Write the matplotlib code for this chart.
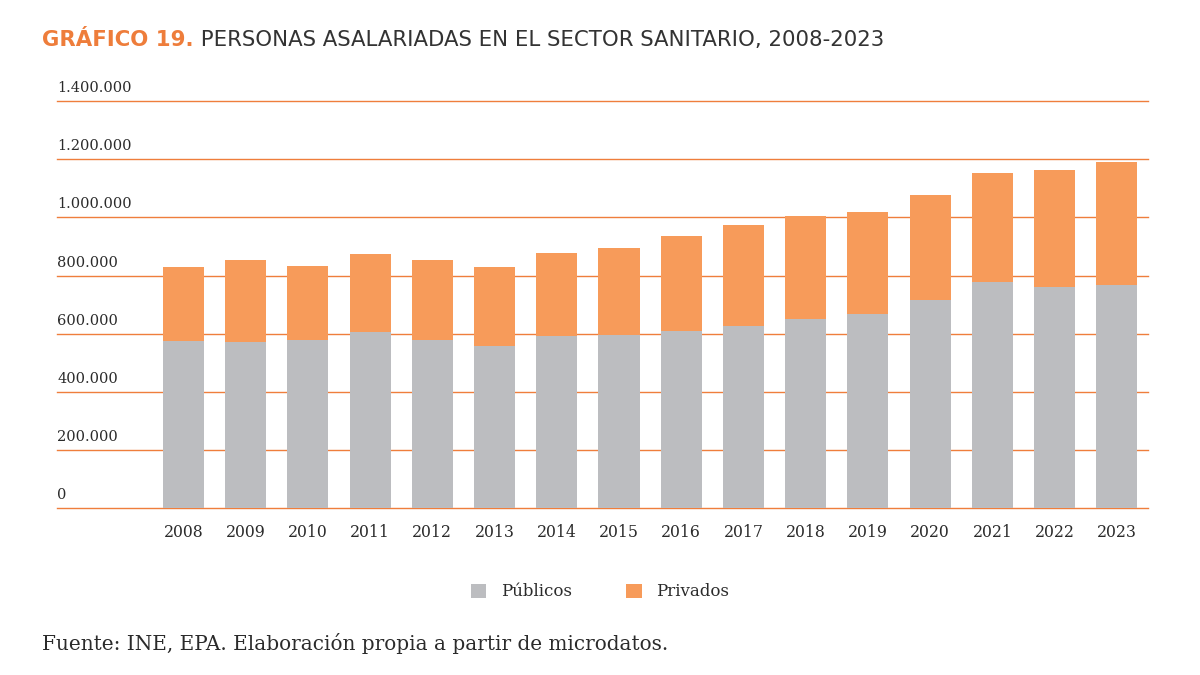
import numpy as np
import matplotlib.pyplot as plt
from matplotlib.patches import Patch

years = [str(y) for y in range(2008, 2024)]
publicos = [575000, 572000, 578000, 605000, 578000, 557000, 591000, 596000,
            610000, 627000, 650000, 667000, 715000, 777000, 762000, 768000]
totales = [830000, 854000, 833000, 875000, 854000, 831000, 878000, 896000,
           935000, 974000, 1004000, 1018000, 1077000, 1152000, 1164000, 1191000]
privados = [t - p for t, p in zip(totales, publicos)]
yticks = [0, 200000, 400000, 600000, 800000, 1000000, 1200000, 1400000]

gris = '#BCBDC0'
naranja = '#F79B5A'
linea = '#EF7E3C'
texto = '#2B2B2B'
serif = 'DejaVu Serif'

def miles(v):
    return f'{int(v):,}'.replace(',', '.')

fig = plt.figure(figsize=(12, 6.75), dpi=100)
ax = fig.add_axes([57/1200, 1-508.3/675, (1148-57)/1200, (508.3-101)/675])

x = np.arange(len(years))
ax.bar(x, publicos, width=0.66, color=gris, zorder=3)
ax.bar(x, privados, bottom=publicos, width=0.66, color=naranja, zorder=3)

ax.set_xlim(-2.03, 15.5)
ax.set_ylim(0, 1400000)
for s in ax.spines.values():
    s.set_visible(False)

# gridlines in orange, labels sit above each line
for v in yticks:
    ax.axhline(v, color=linea, lw=1.0, zorder=1, clip_on=False)
    ax.annotate(miles(v), xy=(0, v), xycoords=ax.get_yaxis_transform(),
                xytext=(0, 6.5), textcoords='offset points',
                ha='left', va='baseline', fontsize=10.5, family=serif, color=texto)
ax.set_yticks([])

ax.set_xticks(x)
ax.set_xticklabels(years, fontsize=11.3, family=serif, color=texto)
ax.tick_params(axis='x', length=0, pad=11)

# title
t1 = fig.text(42/1200, 1-40/675, 'GRÁFICO 19.', fontsize=15.3, fontweight='bold',
              family='DejaVu Sans', color='#EE7D3B', va='center', ha='left')
fig.canvas.draw()
ax.annotate(' PERSONAS ASALARIADAS EN EL SECTOR SANITARIO, 2008-2023',
            xy=(1, 0.5), xycoords=t1, va='center', ha='left',
            fontsize=15.3, family='DejaVu Sans', color='#333333')

# legend
handles = [Patch(facecolor=gris, label='Públicos'),
           Patch(facecolor=naranja, label='Privados')]
fig.legend(handles=handles, loc='center', bbox_to_anchor=(0.5, 1-592/675),
           ncol=2, frameon=False, prop={'family': serif, 'size': 12},
           handlelength=0.95, handleheight=0.95, handletextpad=0.9,
           columnspacing=3.2, labelcolor=texto)

fig.text(42/1200, 1-643/675, 'Fuente: INE, EPA. Elaboración propia a partir de microdatos.',
         fontsize=14.4, family=serif, color=texto, va='center', ha='left')

fig.savefig('out.png', dpi=100)
